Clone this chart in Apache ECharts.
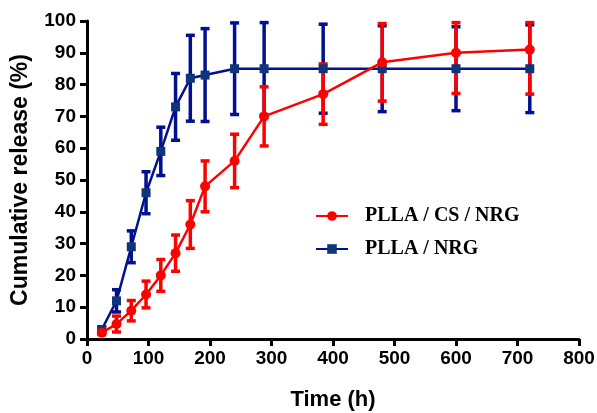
<!DOCTYPE html>
<html>
<head>
<meta charset="utf-8">
<script src="https://cdn.jsdelivr.net/npm/echarts@6/dist/echarts.min.js"></script>
<style>
  html, body { margin: 0; padding: 0; background: #fff; }
  #chart { width: 597px; height: 413px; }
</style>
</head>
<body>
<div id="chart"></div>
<script>
// sampling times (h)
var times = [24, 48, 72, 96, 120, 144, 168, 192, 240, 288, 384, 480, 600, 720];

// PLLA / CS / NRG
var csMean = [2, 4.7, 8.9, 14, 20, 27, 36, 48, 56, 70, 77, 87, 90, 91];
var csErr  = [0.6, 2.5, 3.2, 4.2, 5, 5.7, 7.5, 8, 8.4, 9.3, 9.5, 12.2, 12.8, 14];

// PLLA / NRG
var nrgMean = [3, 12, 29, 46, 59, 73, 82, 83, 85, 85, 85, 85, 85, 85];
var nrgErr  = [0.8, 3.5, 5, 6.6, 7.6, 10.5, 13.5, 14.6, 14.4, 14.6, 14, 13.5, 13.2, 13.8];

var xTicks = [0, 100, 200, 300, 400, 500, 600, 700, 800];
var yTicks = [0, 10, 20, 30, 40, 50, 60, 70, 80, 90, 100];

var RED = '#ff0000';
var BLUE = '#00108e';
var BLUE_MARK = '#0f3479';

function pairs(xs, ys) {
  return xs.map(function (x, i) { return [x, ys[i]]; });
}

// bars are cut at the top of the axis, as in the figure
function errData(xs, m, e) {
  return xs.map(function (x, i) { return [x, m[i] - e[i], Math.min(99.5, m[i] + e[i])]; });
}

function errSeries(name, data, color) {
  return {
    type: 'custom',
    name: name,
    data: data,
    silent: true,
    renderItem: function (params, api) {
      var lo = api.coord([api.value(0), api.value(1)]);
      var hi = api.coord([api.value(0), api.value(2)]);
      var w = 4.5;
      var st = { stroke: color, lineWidth: 3.5 };
      return {
        type: 'group',
        children: [
          { type: 'line', shape: { x1: lo[0], y1: lo[1], x2: hi[0], y2: hi[1] }, style: st },
          { type: 'line', shape: { x1: lo[0] - w, y1: lo[1], x2: lo[0] + w, y2: lo[1] }, style: st },
          { type: 'line', shape: { x1: hi[0] - w, y1: hi[1], x2: hi[0] + w, y2: hi[1] }, style: st }
        ]
      };
    },
    encode: { x: 0, y: [1, 2] },
    z: 2
  };
}

var chart = echarts.init(document.getElementById('chart'));

var axisFont = { fontFamily: 'Liberation Sans', fontWeight: 'bold', fontSize: 19, color: '#000' };

chart.setOption({
  animation: false,
  backgroundColor: '#fff',
  grid: { left: 87, right: 18, top: 21, bottom: 74, containLabel: false, outerBoundsMode: 'none' },
  legend: {
    orient: 'vertical',
    left: 310,
    top: 201,
    itemWidth: 32,
    itemHeight: 12,
    itemGap: 13,
    data: ['PLLA / CS / NRG', 'PLLA / NRG'],
    textStyle: {
      fontFamily: 'Liberation Serif', fontWeight: 'bold', fontSize: 20, color: '#000',
      padding: [0, 0, 0, 12]
    }
  },
  xAxis: {
    type: 'value',
    min: 0, max: 800, interval: 100,
    name: 'Time (h)',
    nameLocation: 'middle',
    nameGap: 50,
    nameTextStyle: { fontFamily: 'Liberation Sans', fontWeight: 'bold', fontSize: 22, color: '#000' },
    axisLine: { show: true, onZero: false, lineStyle: { color: '#000', width: 3 } },
    axisTick: { show: true, length: 7, lineStyle: { color: '#000', width: 3 } },
    axisLabel: Object.assign({ margin: 10, formatter: function (v) { return xTicks.indexOf(v) >= 0 ? v : ''; } }, axisFont),
    splitLine: { show: false }
  },
  yAxis: {
    type: 'value',
    min: 0, max: 100, interval: 10,
    name: 'Cumulative release (%)',
    nameLocation: 'middle',
    nameGap: 55,
    nameTextStyle: { fontFamily: 'Liberation Sans', fontWeight: 'bold', fontSize: 23, color: '#000' },
    axisLine: { show: true, lineStyle: { color: '#000', width: 3 } },
    axisTick: { show: true, length: 7, lineStyle: { color: '#000', width: 3 } },
    axisLabel: Object.assign({ margin: 11, formatter: function (v) { return yTicks.indexOf(v) >= 0 ? v : ''; } }, axisFont),
    splitLine: { show: false }
  },
  series: [
    errSeries('nrgErr', errData(times, nrgMean, nrgErr), BLUE),
    {
      name: 'PLLA / NRG',
      type: 'line',
      data: pairs(times, nrgMean),
      symbol: 'rect',
      symbolSize: 9,
      lineStyle: { color: BLUE, width: 2.5 },
      itemStyle: { color: BLUE_MARK },
      z: 3
    },
    errSeries('csErr', errData(times, csMean, csErr), RED),
    {
      name: 'PLLA / CS / NRG',
      type: 'line',
      data: pairs(times, csMean),
      symbol: 'circle',
      symbolSize: 10,
      lineStyle: { color: RED, width: 2.5 },
      itemStyle: { color: RED },
      z: 5
    }
  ]
});
</script>
</body>
</html>
